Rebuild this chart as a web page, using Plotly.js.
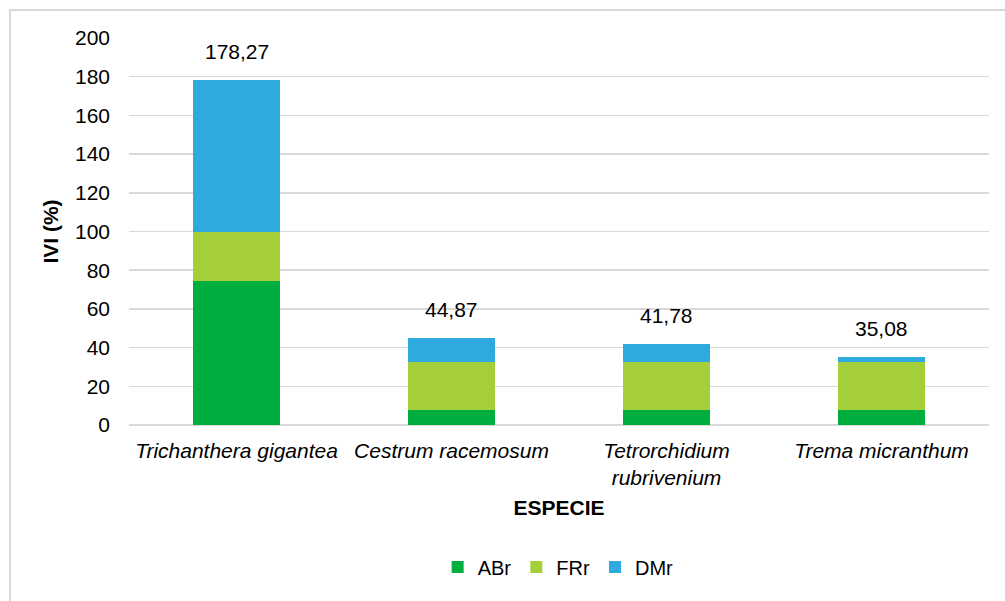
<!DOCTYPE html>
<html>
<head>
<meta charset="utf-8">
<script src="https://cdn.plot.ly/plotly-3.0.1.min.js"></script>
<style>
  html, body { margin: 0; padding: 0; background: #fff; }
  #wrap { position: relative; width: 1005px; height: 601px; overflow: hidden; }
  #chart { width: 1005px; height: 601px; }
  #frame { position: absolute; left: 9px; top: 9px; width: 1010px; height: 620px;
           border: 2px solid #d9d9d9; box-sizing: border-box; pointer-events: none; }
</style>
</head>
<body>
<div id="wrap">
  <div id="chart"></div>
  <div id="frame"></div>
</div>
<script>
const categories = ["Trichanthera gigantea", "Cestrum racemosum", "Tetrorchidium<br>rubrivenium", "Trema micranthum"];
const ABr = [74.4, 7.6, 7.6, 7.6];
const FRr = [25.1, 25.0, 25.0, 25.0];
const DMr = [78.77, 12.27, 9.18, 2.48];
const totals = [178.27, 44.87, 41.78, 35.08];
const totalLabels = ["178,27", "44,87", "41,78", "35,08"];

const font = "Liberation Sans, Arial, sans-serif";
const fs = 21;

const traces = [
  { name: "ABr", y: ABr, color: "#00ae3f" },
  { name: "FRr", y: FRr, color: "#a5cf3a" },
  { name: "DMr", y: DMr, color: "#2eaade" }
].map(s => ({
  type: "bar",
  name: s.name,
  x: categories,
  y: s.y,
  marker: { color: s.color, line: { width: 0 } },
  hoverinfo: "skip"
}));

const annotations = categories.map((c, i) => ({
  x: c, y: totals[i], xref: "x", yref: "y",
  text: totalLabels[i], showarrow: false,
  yanchor: "bottom", yshift: 15,
  font: { family: font, size: fs, color: "#000" }
}));

const layout = {
  width: 1005, height: 601,
  margin: { l: 129, r: 16, t: 38, b: 176 },
  barmode: "stack",
  bargap: 0.595,
  paper_bgcolor: "#fff",
  plot_bgcolor: "#fff",
  showlegend: true,
  legend: {
    orientation: "h", x: 0.499, xanchor: "center", y: -0.367, yanchor: "middle",
    font: { family: font, size: 20, color: "#000" },
    itemwidth: 30, traceorder: "normal"
  },
  xaxis: {
    type: "category",
    tickfont: { family: font, size: fs, color: "#000", style: "italic" },
    showgrid: false, zeroline: false, showline: false,
    ticks: "", ticklen: 0, ticklabelstandoff: 11,
    title: { text: "<b>ESPECIE</b>", font: { family: font, size: fs, color: "#000" }, standoff: 12 },
    automargin: false
  },
  yaxis: {
    range: [0, 200], dtick: 20, tick0: 0,
    tickfont: { family: font, size: fs, color: "#000" },
    showgrid: true, gridcolor: "#d9d9d9", gridwidth: 1.5,
    zeroline: true, zerolinecolor: "#d9d9d9", zerolinewidth: 1.5,
    showline: false, ticks: "", ticklabelstandoff: 18,
    title: { text: "<b>IVI (%)</b>", font: { family: font, size: fs, color: "#000" }, standoff: 10 },
    automargin: false
  },
  annotations: annotations,
  font: { family: font, color: "#000" }
};

Plotly.newPlot("chart", traces, layout, { displayModeBar: false, staticPlot: true });
</script>
</body>
</html>
